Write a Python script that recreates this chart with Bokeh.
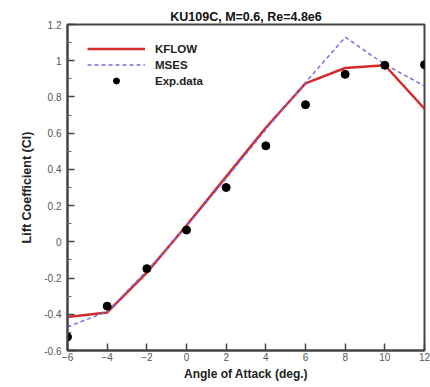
from bokeh.plotting import figure
from bokeh.models import Legend, LegendItem, FixedTicker, Range1d
from bokeh.embed import file_html
from bokeh.resources import INLINE

alpha = [-6, -4, -2, 0, 2, 4, 6, 8, 10, 12]
kflow = [-0.415, -0.39, -0.17, 0.09, 0.36, 0.63, 0.875, 0.96, 0.975, 0.735]
mses = [-0.47, -0.385, -0.16, 0.085, 0.35, 0.62, 0.88, 1.13, 0.98, 0.86]
exp_alpha = [-6, -4, -2, 0, 2, 4, 6, 8, 10, 12]
exp_cl = [-0.525, -0.355, -0.148, 0.065, 0.30, 0.53, 0.757, 0.925, 0.975, 0.978]

x_ticks = [-6, -4, -2, 0, 2, 4, 6, 8, 10, 12]
y_ticks = [-0.6, -0.4, -0.2, 0, 0.2, 0.4, 0.6, 0.8, 1, 1.2]
y_minor = [-0.5, -0.3, -0.1, 0.1, 0.3, 0.5, 0.7, 0.9, 1.1]

FONT = "Liberation Sans"

p = figure(width=430, height=387, output_backend="svg", toolbar_location=None,
           x_range=Range1d(-6, 12), y_range=Range1d(-0.6, 1.2),
           min_border_left=67, min_border_right=6, min_border_top=24, min_border_bottom=37)
p.title.text = "KU109C, M=0.6, Re=4.8e6"
p.title.align = "center"
p.title.text_font = FONT
p.title.text_font_size = "12.5px"
p.title.text_font_style = "bold"
p.title.text_color = "#111111"
p.title.offset = 0
p.title.standoff = 2

p.grid.visible = False
p.outline_line_color = "#444444"
p.outline_line_width = 2

for ax in (p.xaxis[0], p.yaxis[0]):
    ax.axis_line_color = "#444444"
    ax.axis_line_width = 2
    ax.major_tick_in = 7
    ax.major_tick_out = 0
    ax.minor_tick_in = 4
    ax.minor_tick_out = 0
    ax.major_tick_line_color = "#444444"
    ax.major_tick_line_width = 1.5
    ax.minor_tick_line_color = "#666666"
    ax.major_label_text_font = FONT
    ax.major_label_text_font_size = "10px"
    ax.major_label_text_color = "#555555"
    ax.axis_label_text_font = FONT
    ax.axis_label_text_font_style = "bold"
    ax.axis_label_text_color = "#222222"

p.xaxis.axis_label_text_font_size = "12px"
p.yaxis.axis_label_text_font_size = "12.5px"
p.xaxis.ticker = FixedTicker(ticks=x_ticks)
p.yaxis.ticker = FixedTicker(ticks=y_ticks, minor_ticks=y_minor)
p.xaxis.major_label_standoff = 2
p.yaxis.major_label_standoff = 6
p.xaxis.axis_label = "Angle of Attack (deg.)"
p.yaxis.axis_label = "Lift Coefficient (Cl)"
p.xaxis.axis_label_standoff = 3
p.yaxis.axis_label_standoff = 7
p.yaxis.major_label_overrides = {-0.6: "-0.6", -0.4: "-0.4", -0.2: "-0.2", 0: "0",
                                 0.2: "0.2", 0.4: "0.4", 0.6: "0.6", 0.8: "0.8",
                                 1: "1", 1.2: "1.2"}

r1 = p.line(alpha, kflow, line_color="#d42a2a", line_width=2.5)
r2 = p.line(alpha, mses, line_color="#6f6fe0", line_width=1.5, line_dash="4 3")
r3 = p.scatter(exp_alpha, exp_cl, size=8, fill_color="black", line_color="black")

legend = Legend(items=[LegendItem(label="KFLOW", renderers=[r1]),
                       LegendItem(label="MSES", renderers=[r2]),
                       LegendItem(label="Exp.data", renderers=[r3])],
                location=(20, 262))
legend.border_line_color = None
legend.background_fill_alpha = 0
legend.padding = 0
legend.margin = 0
legend.spacing = 1
legend.glyph_width = 58
legend.glyph_height = 15
legend.label_height = 15
legend.label_standoff = 10
legend.label_text_font = FONT
legend.label_text_font_size = "11.5px"
legend.label_text_font_style = "bold"
legend.label_text_color = "#222222"
p.add_layout(legend)

open("out.html", "w").write(file_html(p, INLINE))
